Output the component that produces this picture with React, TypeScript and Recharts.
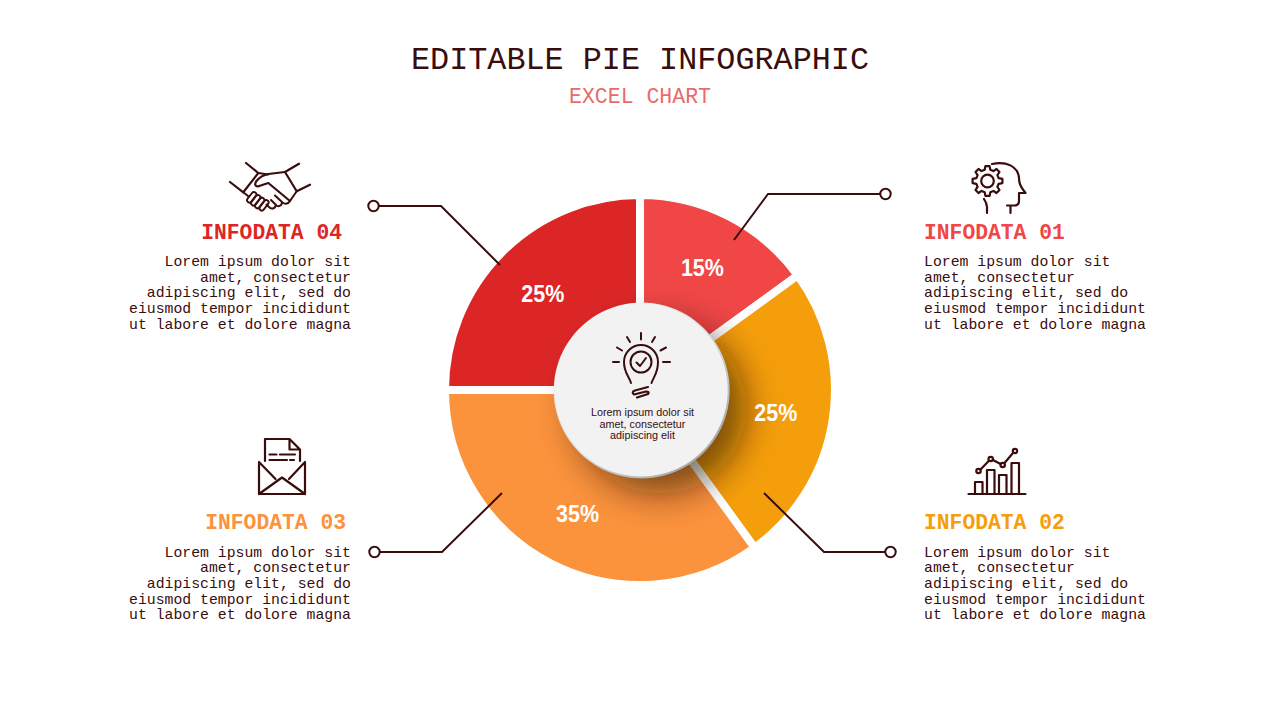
import React from "react";
import { PieChart, Pie, Cell } from "recharts";

const sliceNames = ["INFODATA 01", "INFODATA 02", "INFODATA 03", "INFODATA 04"];
const sliceValues = [15, 25, 35, 25];
const sliceColors = ["#f04646", "#f59e0b", "#fb923c", "#dc2626"];
const discValues = [100];
const loremLines = [
  "Lorem ipsum dolor sit",
  "amet, consectetur",
  "adipiscing elit, sed do",
  "eiusmod tempor incididunt",
  "ut labore et dolore magna",
];
const centerLines = ["Lorem ipsum dolor sit", "amet, consectetur", "adipiscing elit"];

const pieData = sliceNames.map((name, i) => ({ name, value: sliceValues[i] }));
const discData = discValues.map((value) => ({ name: "disc", value }));

const INK = "#3a0d0d";
const MONO = "'Liberation Mono', monospace";
const SANS = "'Liberation Sans', Arial, sans-serif";

const blocks = [
  { i: 0, x: 924, yHead: 239, yBody: 266, anchor: "start", headX: 924 },
  { i: 1, x: 924, yHead: 529, yBody: 556.5, anchor: "start", headX: 924 },
  { i: 2, x: 351, yHead: 529, yBody: 556.5, anchor: "end", headX: 346 },
  { i: 3, x: 351, yHead: 239, yBody: 266, anchor: "end", headX: 342 },
];

const leaders = [
  { pts: "734,240 768,194 880,194", c: [885.5, 194] },
  { pts: "764,493 824,552 885,552", c: [890.5, 552] },
  { pts: "502,493 442,552 380,552", c: [374.5, 552] },
  { pts: "500,265 441,206 379,206", c: [373.5, 206] },
];

const fingerCentres = [
  [251.7, 197.3],
  [255.7, 200.3],
  [259.7, 203],
  [264, 205.3],
];

const gearPath = (() => {
  const cx = 987.5, cy = 181, teeth = 8, ro = 15, ri = 11.5;
  const pts: string[] = [];
  for (let t = 0; t < teeth; t++) {
    const a = (t / teeth) * Math.PI * 2 - Math.PI / 2;
    const s = Math.PI / teeth;
    const p = (r: number, d: number) =>
      `${(cx + r * Math.cos(a + d)).toFixed(1)},${(cy + r * Math.sin(a + d)).toFixed(1)}`;
    pts.push(p(ri, -s * 0.62), p(ro, -s * 0.36), p(ro, s * 0.36), p(ri, s * 0.62));
  }
  return "M" + pts.join(" L") + " Z";
})();

const Icons = () => (
  <g fill="none" stroke={INK} strokeWidth={2.2} strokeLinecap="round" strokeLinejoin="round">
    {/* handshake */}
    <path d="M246,163 L258.3,173 M230,182 L243.3,192.3 M258.3,173 L243.3,192.3 M299,163.7 L285,172 M310,184.7 L296.7,191.3 M285,172 L296.7,191.3" />
    <path d="M285,172 L268.3,174 C263,175 259,178 256.5,181 C254,184.5 255.5,186.8 258.5,186.3 L268.3,183 L290,201" />
    <path d="M258.3,173 L268,174.5 M243.3,192.3 L248,196 M296.7,191.3 L290,201 C288,204.5 284,204.5 282,202 L275,195.5 M282,202 C282,206 278,207.5 276,205 L271,200 M276,205 C275,209 271,209.5 269,207 L266.5,204.5" strokeWidth={2} />
    {fingerCentres.map(([x, y], i) => (
      <rect key={i} x={x - 6} y={y - 2.4} width={12} height={4.8} rx={2.4} transform={`rotate(-52 ${x} ${y})`} strokeWidth={1.9} />
    ))}
    {/* head and gear */}
    <path d={gearPath} />
    <circle cx={987.5} cy={181} r={6.3} />
    <path d="M992,164 C1006,161 1018,166 1019,178 C1019,183 1020,186 1025.5,193 L1019,193 L1019,201 C1019,204 1017,205.5 1014,205.5 L1007,205.5 M1010.5,206 L1010.5,213 M984,199 C986,202 987,204 987,207 L987,213" />
    {/* envelope */}
    <path d="M265,461 L265,439 L289.5,439 L300,449.5 L300,461 M289.5,439 L289.5,449.5 L300,449.5" />
    <path d="M269.5,454.5 L276.5,454.5 M280,454.5 L295,454.5 M269.5,460 L287,460 M290,460 L294,460" />
    <path d="M259,462 L259,494 L305,494 L305,462 M259,462 L275.5,479 M305,462 L289,479 M259,494 L282,477.5 L305,494" />
    {/* bar chart */}
    <path d="M968.5,494 L1025.5,494" />
    <path d="M975,494 L975,482 L982.5,482 L982.5,494 M987,494 L987,470 L994.5,470 L994.5,494 M999,494 L999,475 L1006.5,475 L1006.5,494 M1011.5,494 L1011.5,463 L1019,463 L1019,494" />
    <path d="M980.5,469.5 L988.7,461 M993,460 L1000.5,464 M1004.5,463 L1013,453" />
    <circle cx={978.5} cy={471} r={2.2} />
    <circle cx={990.7} cy={459} r={2.2} />
    <circle cx={1002.7} cy={465} r={2.2} />
    <circle cx={1015} cy={451} r={2.2} />
  </g>
);

const Bulb = () => (
  <g fill="none" stroke={INK} strokeWidth={2} strokeLinecap="round" strokeLinejoin="round">
    <path d="M631,383 C629,376 624,373 624,362 A17,17 0 1 1 658,362 C658,373 654,376 651.5,383" />
    <circle cx={641} cy={362} r={10.5} />
    <path d="M636.5,362.5 L640,366 L646,358" />
    <path d="M641,333 L641,339.5 M627,337 L630,342 M655,337 L652,342 M617,347.5 L622,350.5 M666,347.5 L660.5,350.5 M613,362 L619,362 M663,362 L670,362" />
    <path d="M648,387 L635,390.5 Q631,392 634,394.5 L646,391.5 Q650,391.5 648,394 L637,397.5" strokeWidth={2.2} />
  </g>
);

const renderPct = (p: any) => {
  const r = 137.5;
  const a = (-p.midAngle * Math.PI) / 180;
  return (
    <text
      x={640 + r * Math.cos(a)}
      y={390 + r * Math.sin(a)}
      dy={9}
      textAnchor="middle"
      fontFamily={SANS}
      fontWeight="bold"
      fontSize={24}
      textLength={43}
      lengthAdjust="spacingAndGlyphs"
      fill="#ffffff"
    >
      {`${p.value}%`}
    </text>
  );
};

export default function App() {
  return (
    <div style={{ position: "absolute", left: 0, top: 0, width: 1280, height: 720, background: "#fff" }}>
      <PieChart width={1280} height={720} margin={{ top: 0, right: 0, bottom: 0, left: 0 }}>
        <defs>
          <filter id="discShadow" x="-70%" y="-70%" width="240%" height="240%">
            <feGaussianBlur stdDeviation="17" />
          </filter>
          <linearGradient id="rim" x1="0.15" y1="0.1" x2="0.85" y2="0.9">
            <stop offset="0" stopColor="#f4f4f4" />
            <stop offset="0.55" stopColor="#d8d8d8" />
            <stop offset="1" stopColor="#a6a6a6" />
          </linearGradient>
        </defs>
        <Pie
          data={pieData}
          dataKey="value"
          cx={640}
          cy={390}
          innerRadius={0}
          outerRadius={195}
          startAngle={90}
          endAngle={-270}
          stroke="#ffffff"
          strokeWidth={8}
          label={renderPct}
          labelLine={false}
          isAnimationActive={false}
        >
          {pieData.map((d, i) => (
            <Cell key={d.name} fill={sliceColors[i]} stroke="#ffffff" strokeWidth={8} />
          ))}
        </Pie>
        <Pie
          data={discData}
          dataKey="value"
          cx={660}
          cy={408}
          innerRadius={0}
          outerRadius={86}
          startAngle={90}
          endAngle={-270}
          stroke="none"
          fill="#2a1400"
          fillOpacity={0.58}
          filter="url(#discShadow)"
          isAnimationActive={false}
        />
        <Pie
          data={discData}
          dataKey="value"
          cx={641.7}
          cy={390.5}
          innerRadius={0}
          outerRadius={88}
          startAngle={90}
          endAngle={-270}
          stroke="none"
          fill="url(#rim)"
          isAnimationActive={false}
        />
        <Pie
          data={discData}
          dataKey="value"
          cx={641.2}
          cy={390}
          innerRadius={0}
          outerRadius={86.5}
          startAngle={90}
          endAngle={-270}
          stroke="none"
          fill="#f2f2f2"
          isAnimationActive={false}
        />
      </PieChart>
      <svg width={1280} height={720} style={{ position: "absolute", left: 0, top: 0, pointerEvents: "none" }}>
        <text x={640} y={68.5} textAnchor="middle" fontFamily={MONO} fontSize={31.8} fill={INK}>
          EDITABLE PIE INFOGRAPHIC
        </text>
        <text x={640} y={103} textAnchor="middle" fontFamily={MONO} fontSize={21.5} fill="#e96b6b">
          EXCEL CHART
        </text>
        {blocks.map((b) => (
          <g key={b.i}>
            <text x={b.headX} y={b.yHead} textAnchor={b.anchor as any} fontFamily={MONO} fontWeight="bold" fontSize={21.33} fill={sliceColors[b.i]}>
              {sliceNames[b.i]}
            </text>
            {loremLines.map((l, j) => (
              <text key={j} x={b.x} y={b.yBody + j * 15.7} textAnchor={b.anchor as any} fontFamily={MONO} fontSize={14.8} fill={INK}>
                {l}
              </text>
            ))}
          </g>
        ))}
        {leaders.map((l, i) => (
          <g key={i} fill="none" stroke={INK} strokeWidth={2}>
            <polyline points={l.pts} />
            <circle cx={l.c[0]} cy={l.c[1]} r={5.2} strokeWidth={2} fill="#fff" />
          </g>
        ))}
        <Icons />
        <Bulb />
        {centerLines.map((l, j) => (
          <text key={j} x={642.5} y={416 + j * 11.7} textAnchor="middle" fontFamily={SANS} fontSize={10.8} fill={INK}>
            {l}
          </text>
        ))}
      </svg>
    </div>
  );
}
